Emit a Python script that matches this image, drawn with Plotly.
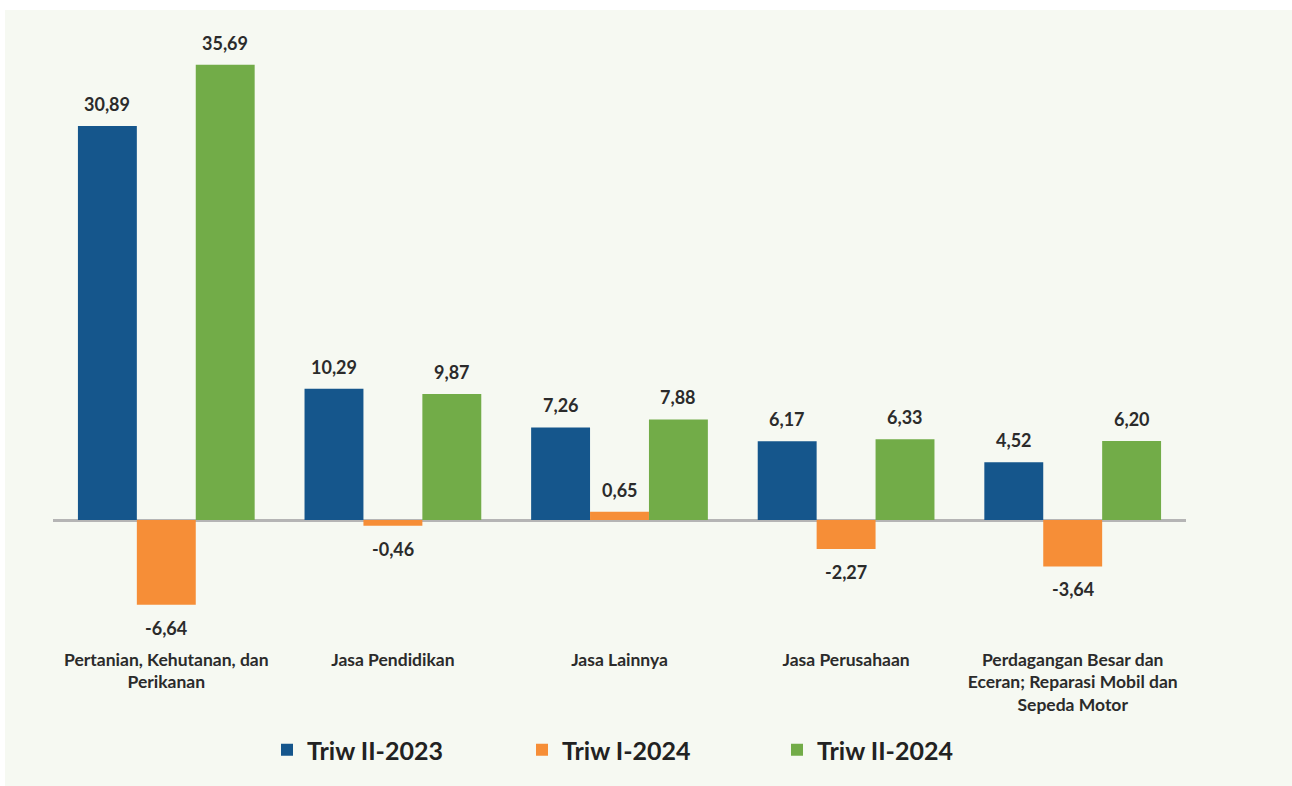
import plotly.graph_objects as go

categories = [
    "Pertanian, Kehutanan, dan<br>Perikanan",
    "Jasa Pendidikan",
    "Jasa Lainnya",
    "Jasa Perusahaan",
    "Perdagangan Besar dan<br>Eceran; Reparasi Mobil dan<br>Sepeda Motor",
]
series_names = ["Triw II-2023", "Triw I-2024", "Triw II-2024"]
triw_ii_2023 = [30.89, 10.29, 7.26, 6.17, 4.52]
triw_i_2024 = [-6.64, -0.46, 0.65, -2.27, -3.64]
triw_ii_2024 = [35.69, 9.87, 7.88, 6.33, 6.20]
colors = ["#15568C", "#F68E37", "#72AC48"]

W, H = 1306, 800
ML, MR, MT, MB = 53, 120, 40, 160
plot_w = W - ML - MR
plot_h = H - MT - MB
bargap = 0.22
bar_px = plot_w / len(categories) * (1 - bargap) / 3

fig = go.Figure()
all_series = [triw_ii_2023, triw_i_2024, triw_ii_2024]
for name, vals, col in zip(series_names, all_series, colors):
    fig.add_trace(go.Bar(
        x=categories, y=vals, name=name,
        marker=dict(color=col, line=dict(width=0)),
    ))

def fmt(v):
    return f"{v:.2f}".replace(".", ",")

annotations = []
for i, vals in enumerate(all_series):
    for cat, v in zip(categories, vals):
        annotations.append(dict(
            x=cat, y=v, xref="x", yref="y",
            text=fmt(v), showarrow=False,
            xshift=(i - 1) * bar_px,
            yshift=22 if v >= 0 else -23,
            font=dict(family="Lato", size=18, color="#2b2b2b", weight="bold"),
        ))

def py(p):
    return (H - MB - p) / plot_h

def px_(p):
    return (p - ML) / plot_w

fig.update_layout(
    width=W, height=H,
    margin=dict(l=ML, r=MR, t=MT, b=MB),
    paper_bgcolor="#F6F9F2",
    plot_bgcolor="#F6F9F2",
    barmode="group",
    bargap=bargap,
    bargroupgap=0,
    showlegend=True,
    legend=dict(
        orientation="h", x=px_(267), xanchor="left",
        y=py(750), yanchor="middle",
        font=dict(family="Lato", size=25, color="#222222", weight="bold"),
        entrywidth=210, entrywidthmode="pixels",
        bgcolor="rgba(0,0,0,0)",
        itemclick=False,
    ),
    annotations=annotations,
    shapes=[
        dict(type="rect", xref="paper", yref="paper",
             x0=px_(0), x1=px_(W), y0=py(10), y1=py(0),
             fillcolor="white", line=dict(width=0), layer="below"),
        dict(type="rect", xref="paper", yref="paper",
             x0=px_(0), x1=px_(5), y0=py(H), y1=py(0),
             fillcolor="white", line=dict(width=0), layer="below"),
    ],
    font=dict(family="Lato"),
)
fig.update_xaxes(
    showline=False, showgrid=False, ticks="",
    tickfont=dict(family="Lato", size=17.5, color="#2b2b2b", weight="bold"),
    ticklabelstandoff=7,
)
fig.update_yaxes(
    range=[-(H - MB - 520) / 12.755, (520 - MT) / 12.755],
    showgrid=False, showticklabels=False, showline=False, ticks="",
    zeroline=True, zerolinecolor="#B5B5B5", zerolinewidth=3,
)
fig.write_html(
    "out.html",
    config={"displayModeBar": False},
    post_script="document.body.style.margin='0';document.body.style.overflow='hidden';",
)
